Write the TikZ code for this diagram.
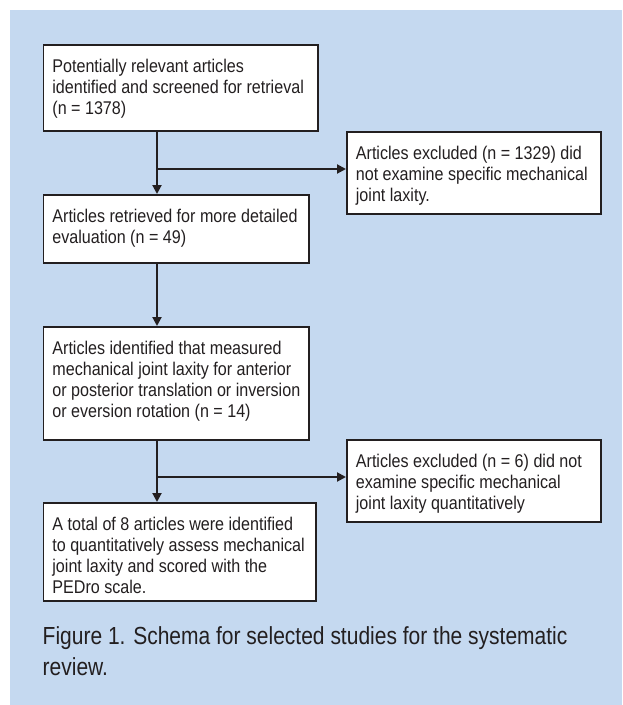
\documentclass[tikz,border=0pt]{standalone}
\usepackage{fontspec}
\setmainfont{Liberation Sans}[FakeStretch=0.875]
\newfontfamily\capfont{Liberation Sans}[FakeStretch=0.85]
\usetikzlibrary{arrows.meta}
\definecolor{panel}{RGB}{197,217,240}
\definecolor{ink}{RGB}{35,31,32}
\newcommand{\bxt}[3]{\parbox[t][#2][t]{#1}{\hbadness=10000\hfuzz=100pt\raggedright\rule{0pt}{28pt}#3}}
\tikzset{
  flowbox/.style={draw=ink, line width=1.8pt, fill=white, inner xsep=9pt, inner ysep=0pt, anchor=north west, text=ink,
    font=\fontsize{18.4}{21}\selectfont},
  arr/.style={draw=ink, line width=2pt, -{Triangle[length=9pt,width=9pt]}}
}
\begin{document}
\begin{tikzpicture}[x=1pt,y=-1pt]
\useasboundingbox (0,0) rectangle (622,705);
\fill[panel] (10,10) rectangle (622,705);
\node[flowbox] (b1) at (42.5,44) {\bxt{256.5pt}{86pt}{\mbox{Potentially relevant articles}\\\mbox{identified and screened for retrieval}\\\mbox{(n = 1378)}}};
\node[flowbox] (b2) at (346,131) {\bxt{236pt}{82pt}{\mbox{Articles excluded (n = 1329) did}\\\mbox{not examine specific mechanical}\\\mbox{joint laxity.}}};
\node[flowbox] (b3) at (42.5,194) {\bxt{247.5pt}{68pt}{\mbox{Articles retrieved for more detailed}\\\mbox{evaluation (n = 49)}}};
\node[flowbox] (b4) at (42.5,326) {\bxt{247.5pt}{113pt}{\mbox{Articles identified that measured}\\\mbox{mechanical joint laxity for anterior}\\\mbox{or posterior translation or inversion}\\\mbox{or eversion rotation (n = 14)}}};
\node[flowbox] (b5) at (346,439) {\bxt{236pt}{82pt}{\mbox{Articles excluded (n = 6) did not}\\\mbox{examine specific mechanical}\\\mbox{joint laxity quantitatively}}};
\node[flowbox] (b6) at (42.5,502) {\bxt{254.5pt}{98pt}{\mbox{A total of 8 articles were identified}\\\mbox{to quantitatively assess mechanical}\\\mbox{joint laxity and scored with the}\\\mbox{PEDro scale.}}};
\coordinate (j1) at (157,169);
\coordinate (j2) at (157,477);
\draw[arr] (b1.south -| j1) -- (b3.north -| j1);
\draw[arr] (j1) -- (b2.west |- j1);
\draw[arr] (b3.south -| j1) -- (b4.north -| j1);
\draw[arr] (b4.south -| j2) -- (b6.north -| j2);
\draw[arr] (j2) -- (b5.west |- j2);
\node[anchor=base west, inner sep=0pt, text=ink, font=\capfont\fontsize{24.7}{31}\selectfont] (cap) at (42.5,644)
  {\parbox[t]{575pt}{\mbox{Figure 1. Schema for selected studies for the systematic}\\review.}};
\end{tikzpicture}
\end{document}
